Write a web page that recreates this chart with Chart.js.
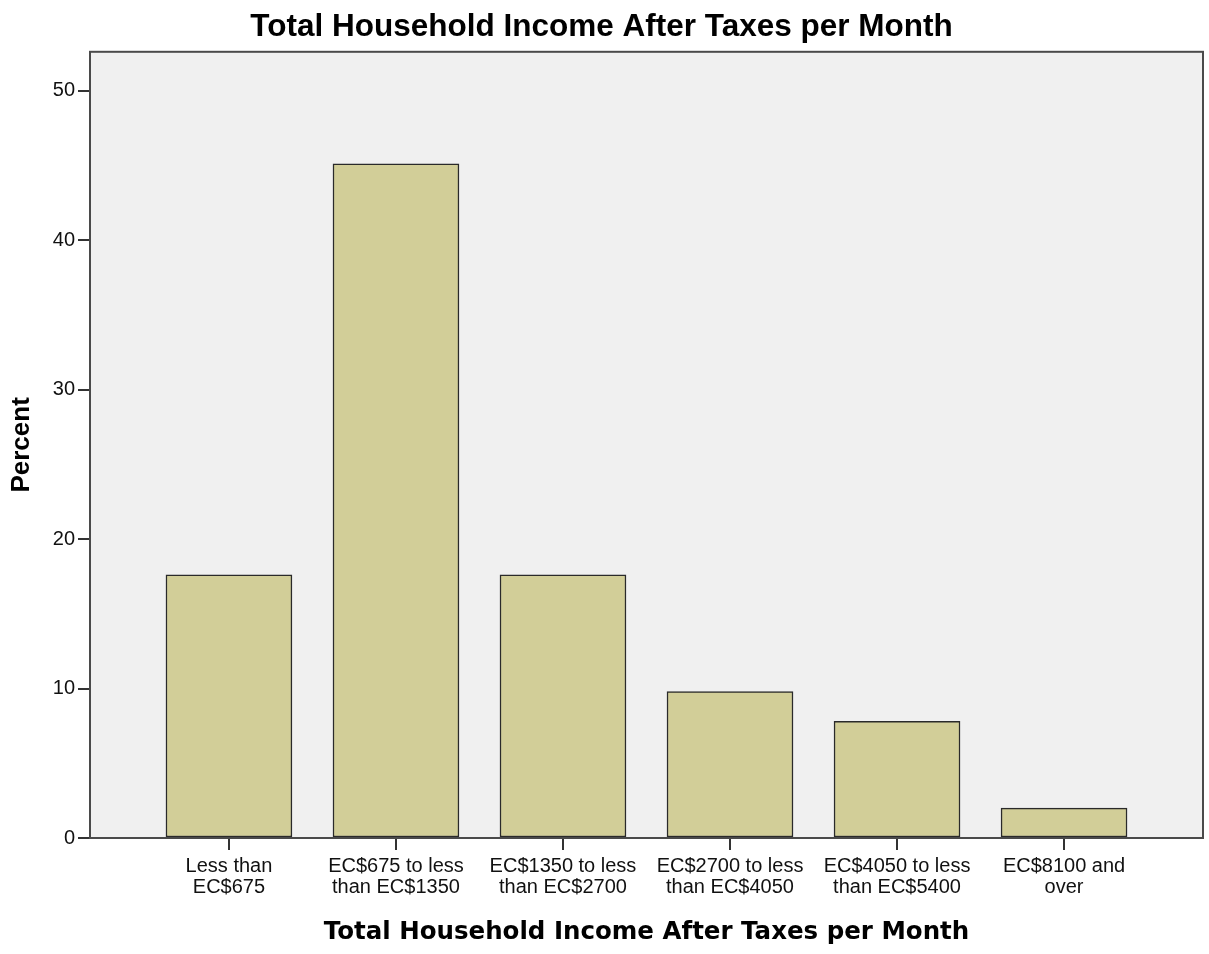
<!DOCTYPE html>
<html>
<head>
<meta charset="utf-8">
<script src="https://cdn.jsdelivr.net/npm/chart.js@4"></script>
<style>
  html, body { margin: 0; padding: 0; background: #fff; }
  #wrap { width: 1209px; height: 954px; }
</style>
</head>
<body>
<div id="wrap"><canvas id="incomeChart" width="1209" height="954"></canvas></div>
<script>
// Chart data
const categories = [
    ['Less than', 'EC$675'],
    ['EC$675 to less', 'than EC$1350'],
    ['EC$1350 to less', 'than EC$2700'],
    ['EC$2700 to less', 'than EC$4050'],
    ['EC$4050 to less', 'than EC$5400'],
    ['EC$8100 and', 'over']
];
const percentValues = [17.6, 45.1, 17.6, 9.8, 7.8, 2.0];
const yTicks = [0, 10, 20, 30, 40, 50];

const chartTitle = 'Total Household Income After Taxes per Month';
const xTitle = 'Total Household Income After Taxes per Month';
const yTitle = 'Percent';

// Plot background + frame, like the SPSS output
const plotFrame = {
    id: 'plotFrame',
    beforeDraw(chart) {
        const a = chart.chartArea;
        const ctx = chart.ctx;
        ctx.save();
        ctx.fillStyle = '#f0f0f0';
        ctx.fillRect(a.left, a.top, a.right - a.left, a.bottom - a.top);
        ctx.restore();
    },
    afterDatasetsDraw(chart) {
        const a = chart.chartArea;
        const ctx = chart.ctx;
        ctx.save();
        ctx.strokeStyle = '#4a4a4a';
        ctx.lineWidth = 2;
        ctx.strokeRect(a.left, a.top, a.right - a.left, a.bottom - a.top);
        ctx.restore();
    }
};

const ctx = document.getElementById('incomeChart').getContext('2d');
const incomeChart = new Chart(ctx, {
    type: 'bar',
    data: {
        datasets: [{
            label: yTitle,
            data: percentValues.map((v, i) => ({ x: i, y: v })),
            backgroundColor: '#d2ce98',
            borderColor: '#2a2a2a',
            borderWidth: 1.5,
            borderSkipped: false,
            barThickness: 126
        }]
    },
    options: {
        responsive: false,
        animation: false,
        layout: { padding: { left: 0, right: 6, top: 0, bottom: 0 } },
        plugins: {
            legend: { display: false },
            tooltip: { enabled: false },
            title: {
                display: true,
                text: chartTitle,
                color: '#000',
                font: { family: 'Liberation Sans', size: 31.5, weight: 'bold', lineHeight: 1.2 },
                padding: { top: 8, bottom: 6 }
            }
        },
        scales: {
            x: {
                type: 'linear',
                offset: false,
                min: -0.832,
                max: 5.832,
                border: { display: false },
                grid: {
                    offset: false,
                    drawOnChartArea: false,
                    drawTicks: true,
                    tickLength: 12,
                    tickColor: '#333',
                    lineWidth: 2
                },
                ticks: {
                    stepSize: 1,
                    includeBounds: false,
                    autoSkip: false,
                    maxRotation: 0,
                    padding: 6,
                    color: '#111',
                    font: { family: 'Liberation Sans', size: 20, lineHeight: 1.05 },
                    callback: (v) => (Number.isInteger(v) && categories[v]) ? categories[v] : ''
                },
                title: {
                    display: true,
                    text: xTitle,
                    color: '#000',
                    font: { family: 'DejaVu Sans', size: 24.5, weight: 'bold', lineHeight: 1.2 },
                    padding: { top: 4, bottom: 7 }
                },
                afterFit(scale) { scale.height = 116; }
            },
            y: {
                min: 0,
                max: 52.6,
                border: { display: false },
                grid: {
                    drawOnChartArea: false,
                    drawTicks: true,
                    tickLength: 12,
                    tickColor: '#333',
                    lineWidth: 2
                },
                ticks: {
                    stepSize: 10,
                    includeBounds: false,
                    padding: 3,
                    color: '#111',
                    font: { family: 'Liberation Sans', size: 20 },
                    callback: (v) => yTicks.includes(v) ? String(v) : ''
                },
                title: {
                    display: true,
                    text: yTitle,
                    color: '#000',
                    font: { family: 'Liberation Sans', size: 26, weight: 'bold', lineHeight: 1.2 },
                    padding: { top: 6, bottom: 0 }
                },
                afterFit(scale) { scale.width = 90; }
            }
        }
    },
    plugins: [plotFrame]
});
</script>
</body>
</html>
